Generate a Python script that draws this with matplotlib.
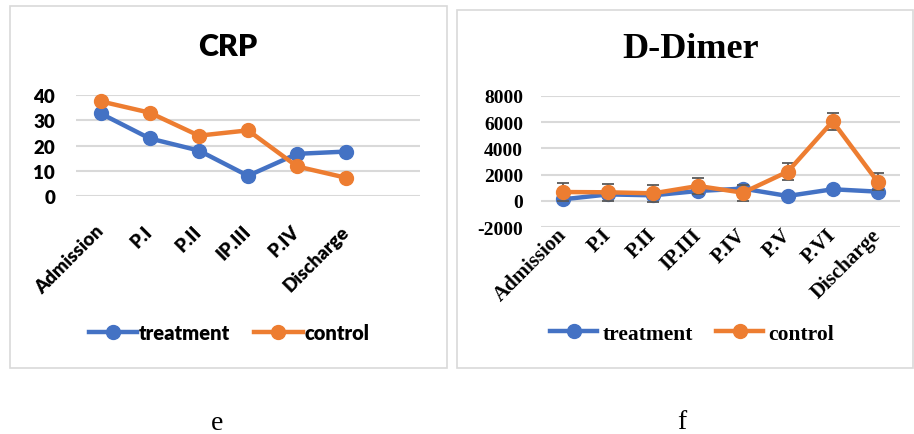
import matplotlib.pyplot as plt
from matplotlib.patches import Rectangle
from matplotlib.lines import Line2D

plt.rcParams['axes.unicode_minus'] = False

# CRP panel
crp_labels = ['Admission', 'P.I', 'P.II', 'IP.III', 'P.IV', 'Discharge']
crp_treatment = [32.7, 22.8, 18.0, 8.0, 16.7, 17.6]
crp_control = [37.5, 33.0, 23.9, 26.0, 11.7, 7.2]

# D-Dimer panel
dd_labels = ['Admission', 'P.I', 'P.II', 'IP.III', 'P.IV', 'P.V', 'P.VI', 'Discharge']
dd_treatment = [130, 500, 430, 760, 940, 380, 890, 710]
dd_control = [680, 660, 580, 1140, 630, 2230, 6050, 1470]
dd_control_err = [650, 650, 620, 630, 600, 660, 620, 650]

blue = '#4472C4'
orange = '#ED7D31'
grid_c = '#D9D9D9'

W, H = 914, 435
fig = plt.figure(figsize=(W / 100, H / 100), dpi=100)


def box(x0, y0, x1, y1):
    return [x0 / W, 1 - y1 / H, (x1 - x0) / W, (y1 - y0) / H]


# chart frames
for x0, y0, x1, y1 in [(10, 7, 447, 369), (457, 11, 913, 369)]:
    fig.patches.append(Rectangle((x0 / W, 1 - y1 / H), (x1 - x0) / W, (y1 - y0) / H,
                                 transform=fig.transFigure, fill=False,
                                 edgecolor=grid_c, lw=1.2))


def style_axes(ax, ncat, font, ysize, xsize, ypad, xpad):
    ax.set_xlim(-0.5, ncat - 0.5)
    ax.grid(axis='y', color=grid_c, lw=1.5)
    ax.set_axisbelow(True)
    for s in ax.spines.values():
        s.set_visible(False)
    ax.tick_params(length=0)
    ax.tick_params(axis='y', pad=ypad)
    ax.tick_params(axis='x', pad=xpad)
    for t in ax.get_yticklabels():
        t.set_fontfamily(font)
        t.set_fontweight('heavy')
        t.set_fontsize(ysize)
    for t in ax.get_xticklabels():
        t.set_fontfamily(font)
        t.set_fontweight('heavy')
        t.set_fontsize(xsize)
        t.set_rotation(45)
        t.set_ha('right')
        t.set_va('center')
        t.set_rotation_mode('anchor')


line_kw = dict(lw=3.2, marker='o', markersize=10, clip_on=False)

# ---- CRP ----
ax1 = fig.add_axes(box(76, 96, 420, 197))
x1 = list(range(len(crp_labels)))
ax1.plot(x1, crp_treatment, color=blue, **line_kw)
ax1.plot(x1, crp_control, color=orange, **line_kw)
ax1.set_ylim(0, 40)
ax1.set_yticks([0, 10, 20, 30, 40])
ax1.set_xticks(x1)
ax1.set_xticklabels(crp_labels)
style_axes(ax1, 7, 'Lato', 13.5, 13.5, 15, 23)
fig.text(228 / W, 1 - 47 / H, 'CRP', ha='center', va='center',
         fontfamily='Lato', fontweight='heavy', fontsize=22)

# ---- D-Dimer ----
ax2 = fig.add_axes(box(541, 96.7, 900, 228.3))
x2 = list(range(len(dd_labels)))
ax2.plot(x2, dd_treatment, color=blue, **line_kw)
ax2.errorbar(x2, dd_control, yerr=dd_control_err, fmt='none', ecolor='#595959',
             elinewidth=1.3, capsize=4, capthick=1.3, zorder=2.5)
ax2.plot(x2, dd_control, color=orange, zorder=3, **line_kw)
ax2.set_ylim(-2000, 8000)
ax2.set_yticks([-2000, 0, 2000, 4000, 6000, 8000])
ax2.set_xticks(x2)
ax2.set_xticklabels(dd_labels)
style_axes(ax2, 8, 'Liberation Serif', 14, 15, 13, 3)
fig.text(691 / W, 1 - 50 / H, 'D-Dimer', ha='center', va='center',
         fontfamily='Liberation Serif', fontweight='bold', fontsize=26)

# legends
handles = [Line2D([], [], color=blue, lw=3.2, marker='o', markersize=10),
           Line2D([], [], color=orange, lw=3.2, marker='o', markersize=10)]
fig.legend(handles, ['treatment', 'control'], loc='center', bbox_to_anchor=(229 / W, 1 - 334 / H),
           ncol=2, frameon=False, handlelength=2.4, handletextpad=0.1, columnspacing=1.2,
           prop=dict(family='Lato', weight='heavy', size=14.5))
fig.legend(handles, ['treatment', 'control'], loc='center', bbox_to_anchor=(692 / W, 1 - 335 / H),
           ncol=2, frameon=False, handlelength=2.2, handletextpad=0.23, columnspacing=1.07,
           prop=dict(family='Liberation Serif', weight='bold', size=15.5))

fig.text(217 / W, 1 - 424 / H, 'e', ha='center', va='center', fontfamily='Liberation Serif', fontsize=20)
fig.text(682 / W, 1 - 423 / H, 'f', ha='center', va='center', fontfamily='Liberation Serif', fontsize=20)

fig.savefig('out.png', dpi=100)
